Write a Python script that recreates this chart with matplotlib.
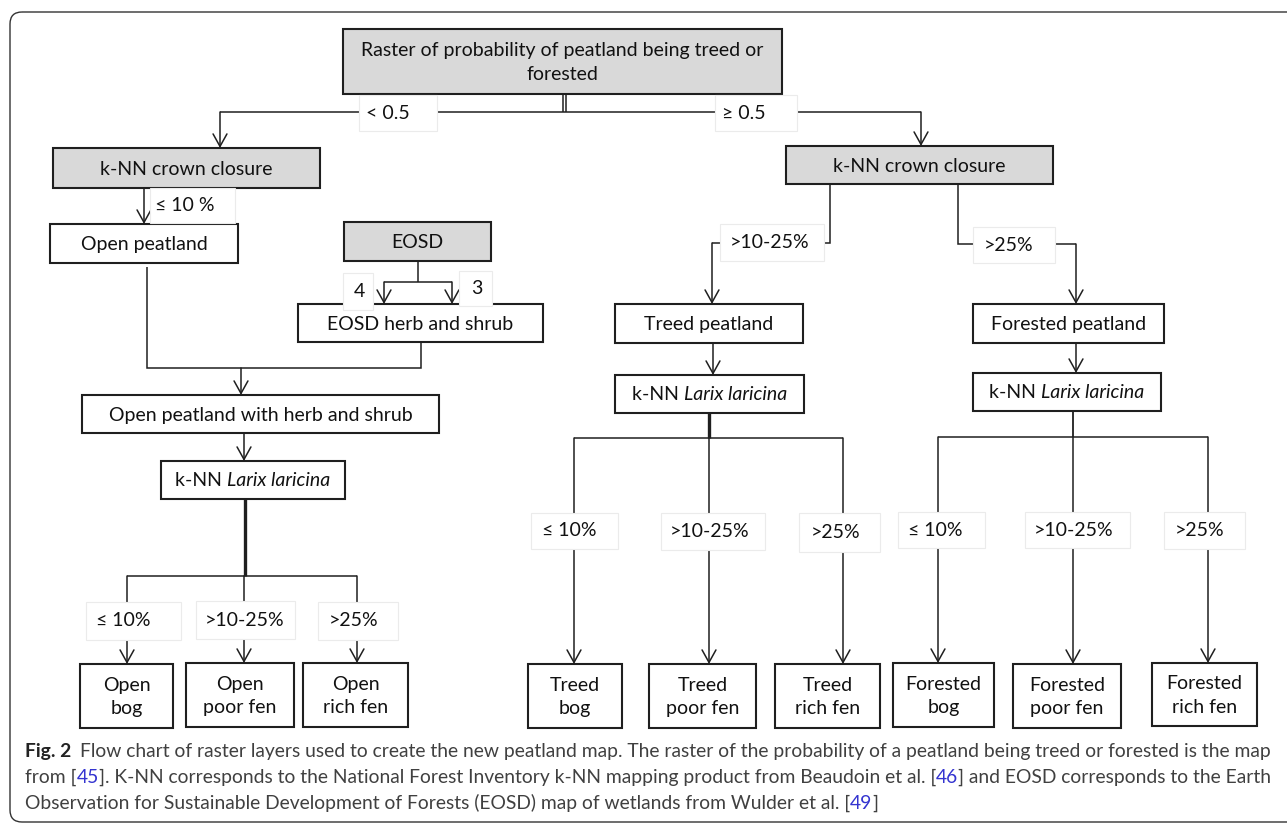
import matplotlib
matplotlib.use("Agg")
import matplotlib.pyplot as plt
from matplotlib.patches import Rectangle, FancyBboxPatch, FancyArrowPatch

W, H = 1287, 824

# ---- texts of the flow chart ----
top_label = ["Raster of probability of peatland being treed or", "forested"]
prob_labels = ["< 0.5", "\u2265 0.5"]
crown_box = "k-NN crown closure"
crown_labels = ["\u2264 10 %", ">10-25%", ">25%"]
eosd_box = "EOSD"
eosd_classes = ["4", "3"]
open_boxes = ["Open peatland", "EOSD herb and shrub", "Open peatland with herb and shrub"]
tree_boxes = ["Treed peatland", "Forested peatland"]
larix_prefix, larix_name = "k-NN ", "Larix laricina"
larix_labels = ["\u2264 10%", ">10-25%", ">25%"]
peat_groups = ["Open", "Treed", "Forested"]
fen_types = ["bog", "poor fen", "rich fen"]
ref_numbers = ["45", "46", "49"]

CHART_FONT = "Lato"
CAP_FONT = "Lato"
FS = 14
LINE = "#1f1f1f"
GRAY = "#d9d9d9"
BLUE = "#3434d0"

# ---- layout (pixels, y downwards) ----
box_geo = {
    "top": (343, 29, 782, 94),
    "crown_L": (53, 148, 320, 188),
    "crown_R": (786, 146, 1053, 184),
    "open_peat": (50, 224, 238, 263),
    "eosd": (344, 222, 491, 261),
    "eosd_herb": (298, 304, 543, 342),
    "open_herb": (82, 395, 439, 433),
    "larix_open": (161, 461, 345, 499),
    "treed_peat": (615, 304, 803, 343),
    "forest_peat": (973, 304, 1164, 343),
    "larix_treed": (615, 375, 804, 413),
    "larix_forest": (973, 373, 1161, 411),
}
leaf_geo = [
    [(80, 664, 173, 728), (186, 663, 294, 727), (303, 663, 408, 727)],
    [(528, 664, 622, 728), (649, 664, 756, 728), (775, 664, 880, 728)],
    [(893, 663, 994, 727), (1013, 664, 1121, 728), (1152, 663, 1257, 726)],
]
# label boxes: (x0, y0, x1, y1, text x)
prob_geo = [(359, 95, 437, 131, 388), (715, 95, 797, 131, 744)]
crown_geo = [(150, 188, 235, 223, 185), (720, 224, 824, 261, 770), (973, 227, 1055, 263, 1009)]
eosd_geo = [(343, 273, 373, 310, 359), (459, 271, 492, 306, 477)]
larix_geo = [
    [(86, 602, 181, 640, 123), (196, 601, 295, 639, 245), (318, 602, 398, 640, 354)],
    [(531, 513, 618, 549, 569), (661, 513, 765, 550, 710), (799, 513, 880, 552, 836)],
    [(898, 512, 985, 548, 935), (1025, 512, 1130, 548, 1074), (1164, 512, 1245, 549, 1200)],
]
# branch trees under the three Larix boxes: stem x, stem top, bar y, leaf x's, stem width
branch_geo = [
    (245, 499, 576, [127, 244, 357], 2.4),
    (709, 413, 438, [574, 709, 843], 2.4),
    (1073, 411, 437, [938, 1073, 1208], 1.3),
]

fig = plt.figure(figsize=(W / 100, H / 100), dpi=100)
ax = fig.add_axes([0, 0, 1, 1])
ax.set_xlim(0, W)
ax.set_ylim(H, 0)
ax.axis("off")
renderer = fig.canvas.get_renderer()


def text_width(s, **kw):
    t = ax.text(0, 0, s + "|", **kw)
    w1 = t.get_window_extent(renderer).width
    t.set_text("|")
    w2 = t.get_window_extent(renderer).width
    t.remove()
    return w1 - w2


def draw_runs(x, y, runs, ha="left", va="baseline", **common):
    widths = [text_width(s, **{**common, **kw}) for s, kw in runs]
    if ha == "center":
        x -= sum(widths) / 2
    for (s, kw), w in zip(runs, widths):
        ax.text(x, y, s, ha="left", va=va, **{**common, **kw})
        x += w


def box(geo, text=None, fill="white", lw=1.5):
    x0, y0, x1, y1 = geo
    ax.add_patch(Rectangle((x0, y0), x1 - x0, y1 - y0, facecolor=fill,
                           edgecolor=LINE, lw=lw, zorder=3))
    if text is not None:
        ax.text((x0 + x1) / 2, (y0 + y1) / 2 + 1, text, ha="center", va="center",
                fontsize=FS, family=CHART_FONT, color="#111111",
                linespacing=1.45, zorder=4)


def label(geo, text):
    x0, y0, x1, y1, tx = geo
    ax.add_patch(Rectangle((x0, y0), x1 - x0, y1 - y0, facecolor="white",
                           edgecolor="#ebebeb", lw=0.8, zorder=5))
    ax.text(tx, (y0 + y1) / 2, text, ha="center", va="center", fontsize=FS,
            family=CHART_FONT, color="#111111", zorder=6)


def line(xs, ys, lw=1.1):
    ax.plot(xs, ys, color=LINE, lw=lw, solid_capstyle="butt",
            solid_joinstyle="miter", zorder=2)


def arrow(x, y0, y1):
    ax.add_patch(FancyArrowPatch((x, y0), (x, y1),
                                 arrowstyle="->,head_length=0.9,head_width=0.5",
                                 mutation_scale=10, lw=1.1, color=LINE,
                                 shrinkA=0, shrinkB=0, zorder=2))


# outer frame
ax.add_patch(FancyBboxPatch((10, 12), 1300, 810,
                            boxstyle="round,pad=0,rounding_size=12",
                            facecolor="none", edgecolor="#333333", lw=1.0,
                            zorder=1, clip_on=False))

# --- top split ---
box(box_geo["top"], "\n".join(top_label), fill=GRAY)
line([563, 563], [94, 112])
line([566, 566], [94, 112])
line([220, 921], [112, 112])
arrow(220, 112, box_geo["crown_L"][1])
arrow(921, 112, box_geo["crown_R"][1])
for g, t in zip(prob_geo, prob_labels):
    label(g, t)

# --- open peatland branch ---
box(box_geo["crown_L"], crown_box, fill=GRAY)
box(box_geo["crown_R"], crown_box, fill=GRAY)
arrow(144, 188, box_geo["open_peat"][1])
box(box_geo["open_peat"], open_boxes[0])
box(box_geo["eosd"], eosd_box, fill=GRAY)
line([418, 418], [261, 282])
line([384, 452], [282, 282])
arrow(384, 282, 304)
arrow(452, 282, 304)
box(box_geo["eosd_herb"], open_boxes[1])
line([147, 147, 421, 421], [267, 368, 368, 342])
arrow(241, 368, box_geo["open_herb"][1])
box(box_geo["open_herb"], open_boxes[2])
arrow(244, 433, box_geo["larix_open"][1])

# --- treed / forested branch ---
line([830, 830, 712], [184, 243, 243])
arrow(712, 243, 304)
line([958, 958, 1076], [184, 244, 244])
arrow(1076, 244, 304)
box(box_geo["treed_peat"], tree_boxes[0])
box(box_geo["forest_peat"], tree_boxes[1])
arrow(713, 343, box_geo["larix_treed"][1])
arrow(1076, 343, box_geo["larix_forest"][1])
for g, t in zip(crown_geo, crown_labels):
    label(g, t)
for g, t in zip(eosd_geo, eosd_classes):
    label(g, t)

# --- Larix boxes with branches to the leaves ---
for key in ["larix_open", "larix_treed", "larix_forest"]:
    x0, y0, x1, y1 = box_geo[key]
    box(box_geo[key])
    draw_runs((x0 + x1) / 2, (y0 + y1) / 2 + 6, [(larix_prefix, {}),
              (larix_name, {"style": "italic"})], ha="center",
              fontsize=FS, family=CHART_FONT, color="#111111", zorder=4)

for gi, (sx, sy, by, xs, slw) in enumerate(branch_geo):
    line([sx, sx], [sy, by], lw=slw)
    line([xs[0], xs[-1]], [by, by])
    for li, x in enumerate(xs):
        x0, y0, x1, y1 = leaf_geo[gi][li]
        arrow(x, by, y0)
        box(leaf_geo[gi][li], peat_groups[gi] + "\n" + fen_types[li])
        label(larix_geo[gi][li], larix_labels[li])

# --- caption ---
n = {"color": "#404040"}
b = {"color": "#222222", "weight": "bold"}
bl = {"color": BLUE}
cap = [
    [("Fig. 2  ", b), ("Flow chart of raster layers used to create the new peatland map. "
                        "The raster of the probability of a peatland being treed or forested is the map", n)],
    [("from [", n), (ref_numbers[0], bl),
     ("]. K-NN corresponds to the National Forest Inventory k-NN mapping product from Beaudoin et al. [", n),
     (ref_numbers[1], bl), ("] and EOSD corresponds to the Earth", n)],
    [("Observation for Sustainable Development of Forests (EOSD) map of wetlands from Wulder et al. [", n),
     (ref_numbers[2], bl), ("]", n)],
]
cap_size = 12.0
for _ in range(3):
    wl = sum(text_width(s, fontsize=cap_size, family=CAP_FONT, **kw) for s, kw in cap[0])
    cap_size *= 1250 / wl
for i, runs in enumerate(cap):
    draw_runs(25, 757 + 26 * i, runs, fontsize=cap_size, family=CAP_FONT)

fig.savefig("out.png", dpi=100)
